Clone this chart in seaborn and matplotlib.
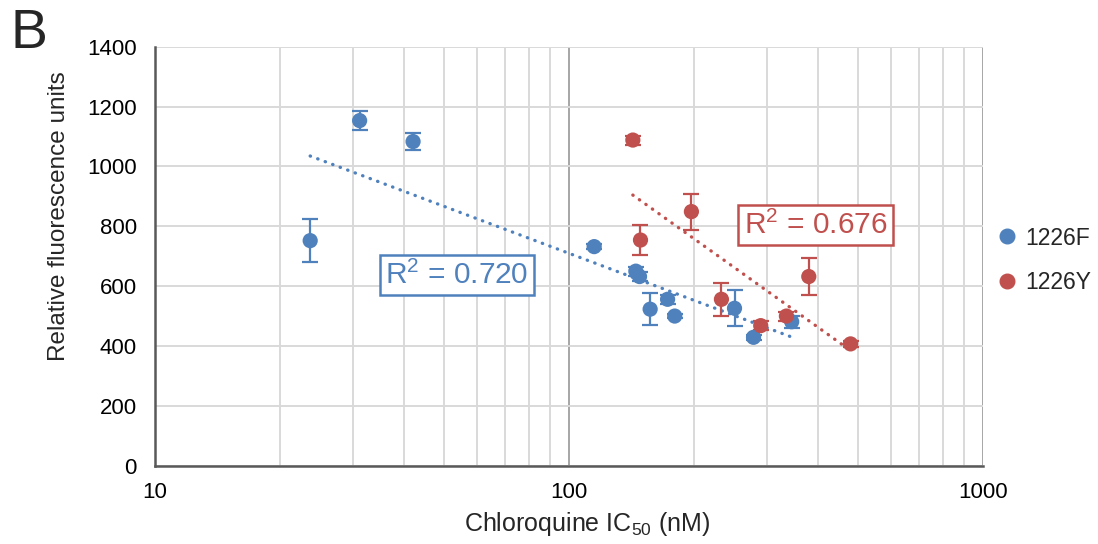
import numpy as np
import pandas as pd
import matplotlib
matplotlib.use("Agg")
import matplotlib.pyplot as plt
from matplotlib.ticker import LogLocator, FixedLocator, NullFormatter
from matplotlib.lines import Line2D
import seaborn as sns

# Chloroquine IC50 (nM) and fluorescence (mean, error) per isolate
f_ic50 = [23.7, 31.2, 42.0, 115, 145, 148, 157, 173, 180, 251, 279, 345]
f_rfu = [752, 1153, 1083, 732, 650, 632, 523, 556, 500, 526, 429, 481]
f_err = [73, 32, 27, 8, 15, 15, 53, 15, 8, 60, 8, 20]

y_ic50 = [142.6, 148.8, 197.5, 233.4, 290.4, 335, 379.4, 478.6]
y_rfu = [1088, 754, 849, 556, 468, 500, 632, 407]
y_err = [15, 49, 60, 55, 15, 15, 63, 10]

groups = ["1226F", "1226Y"]
colors = {"1226F": "#4F81BD", "1226Y": "#C0504D"}
r2_labels = {"1226F": "R$^2$ = 0.720", "1226Y": "R$^2$ = 0.676"}
r2_pos = {"1226F": (53.6, 637), "1226Y": (394, 804)}

df = pd.DataFrame({
    "ic50": f_ic50 + y_ic50,
    "rfu": f_rfu + y_rfu,
    "err": f_err + y_err,
    "allele": ["1226F"] * len(f_ic50) + ["1226Y"] * len(y_ic50),
})

sns.set_theme(style="white")
plt.rcParams["font.family"] = ["Liberation Sans", "DejaVu Sans"]
plt.rcParams["mathtext.fontset"] = "custom"
plt.rcParams["mathtext.rm"] = "Liberation Sans"
plt.rcParams["mathtext.it"] = "Liberation Sans"
plt.rcParams["mathtext.default"] = "regular"

fig = plt.figure(figsize=(10.98, 5.44), dpi=100)
ax = fig.add_axes([0.1412, 0.1439, 0.7541, 0.7703])

ax.set_xscale("log")
ax.set_xlim(10, 1000)
ax.set_ylim(0, 1400)

# gridlines: darker decades, light minor lines
ax.xaxis.set_major_locator(FixedLocator([10, 100, 1000]))
ax.xaxis.set_minor_locator(LogLocator(base=10, subs=np.arange(2, 10)))
ax.xaxis.set_minor_formatter(NullFormatter())
ax.set_xticks([10, 100, 1000])
ax.set_xticklabels(["10", "100", "1000"])
ax.set_yticks(np.arange(0, 1401, 200))
ax.grid(True, which="major", axis="x", color="#a6a6a6", lw=1.4)
ax.grid(True, which="minor", axis="x", color="#d9d9d9", lw=1.4)
ax.grid(True, which="major", axis="y", color="#d9d9d9", lw=1.4)
ax.set_axisbelow(True)

for s in ["top", "right"]:
    ax.spines[s].set_visible(False)
for s in ["left", "bottom"]:
    ax.spines[s].set_color("#595959")
    ax.spines[s].set_linewidth(1.8)

ax.tick_params(axis="both", which="both", length=0, labelsize=16, colors="#000000")
ax.tick_params(axis="y", pad=13)
ax.tick_params(axis="x", pad=12)

# logarithmic trend lines (straight on the log axis)
for g in groups:
    sub = df[df.allele == g]
    lx = np.log10(sub.ic50.values)
    k, b = np.polyfit(lx, sub.rfu.values, 1)
    xs = np.linspace(lx.min(), lx.max(), 50)
    ax.plot(10 ** xs, k * xs + b, color=colors[g], lw=2.4,
            linestyle=(0, (0.1, 2.3)), dash_capstyle="round", zorder=2)

# error bars
for g in groups:
    sub = df[df.allele == g]
    ax.errorbar(sub.ic50, sub.rfu, yerr=sub.err, fmt="none", ecolor=colors[g],
                elinewidth=1.6, capsize=6, capthick=1.6, zorder=3)

sns.scatterplot(data=df, x="ic50", y="rfu", hue="allele", palette=colors,
                s=120, edgecolor="none", linewidth=0, ax=ax, zorder=4, legend=False)

for g in groups:
    ax.text(*r2_pos[g], r2_labels[g], color=colors[g], fontsize=21.5,
            ha="center", va="center", zorder=5,
            bbox=dict(boxstyle="square,pad=0.18", fc="white", ec=colors[g], lw=1.8))

ax.set_xlabel("Chloroquine IC$_{50}$ (nM)", fontsize=18)
ax.set_ylabel("Relative fluorescence units", fontsize=17.5)
ax.xaxis.set_label_coords(0.522, -0.105)
ax.yaxis.set_label_coords(-0.103, 0.596)

handles = [Line2D([], [], marker="o", ls="none", color=colors[g], markersize=10.5) for g in groups]
ax.legend(handles, groups, loc="center left", bbox_to_anchor=(0.99, 0.49),
          frameon=False, fontsize=16.5, handletextpad=0.3, labelspacing=0.95,
          handlelength=1.0)

fig.text(0.010, 0.985, "B", fontsize=40, ha="left", va="top")

fig.savefig("out.png", dpi=100)
